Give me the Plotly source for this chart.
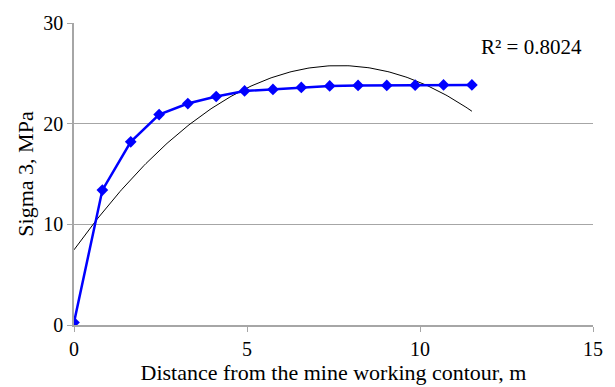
import numpy as np
import plotly.graph_objects as go

# Measured sigma 3 versus distance from the working contour
distance_m = [0.0, 0.82, 1.64, 2.46, 3.29, 4.11, 4.93, 5.75, 6.57, 7.39, 8.21, 9.04, 9.86, 10.68, 11.5]
sigma3_mpa = [0.25, 13.4, 18.2, 20.9, 22.0, 22.7, 23.25, 23.4, 23.6, 23.75, 23.8, 23.8, 23.82, 23.85, 23.85]

x_ticks = [0, 5, 10, 15]
y_ticks = [0, 10, 20, 30]
r2_label = "R² = 0.8024"

# Second-order polynomial trend line over the measured range
coef = np.polyfit(distance_m, sigma3_mpa, 2)
xt = np.linspace(min(distance_m), max(distance_m), 200)
yt = np.polyval(coef, xt)

fig = go.Figure()
fig.add_trace(go.Scatter(
    x=xt, y=yt, mode="lines",
    line=dict(color="black", width=1),
    hoverinfo="skip", showlegend=False,
))
fig.add_trace(go.Scatter(
    x=distance_m, y=sigma3_mpa, mode="lines+markers",
    line=dict(color="#0000FF", width=2.5),
    marker=dict(symbol="diamond", size=9, color="#0000FF"),
    showlegend=False,
))

fig.add_annotation(
    x=11.7, y=27.6, xref="x", yref="y", text=r2_label,
    showarrow=False, xanchor="left", yanchor="middle",
    font=dict(family="Liberation Serif", size=21, color="black"),
)

font = dict(family="Liberation Serif", color="black")
fig.update_layout(
    width=615, height=387,
    margin=dict(l=74, r=20, t=17, b=58),
    paper_bgcolor="white", plot_bgcolor="white",
    font=font,
    xaxis=dict(
        range=[0, 15], tickvals=x_ticks, showgrid=False, zeroline=False,
        showline=True, linecolor="#A6A6A6", linewidth=1.5,
        ticks="outside", ticklen=5, tickcolor="#A6A6A6",
        tickfont=dict(size=20, family="Liberation Serif"),
        title=dict(text="Distance from the mine working contour, m",
                   font=dict(size=22, family="Liberation Serif"), standoff=0),
    ),
    yaxis=dict(
        range=[0, 30], tickvals=y_ticks, showgrid=True, gridcolor="#A6A6A6",
        gridwidth=1, zeroline=False,
        showline=True, linecolor="#A6A6A6", linewidth=1.5,
        ticks="outside", ticklen=5, tickcolor="#A6A6A6",
        tickfont=dict(size=20, family="Liberation Serif"),
        title=dict(text="Sigma 3, MPa",
                   font=dict(size=22, family="Liberation Serif"), standoff=4),
    ),
)

fig.write_html("out.html")
